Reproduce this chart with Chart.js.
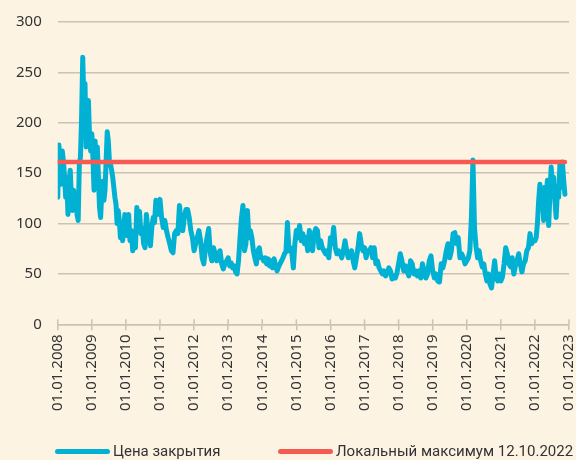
<!DOCTYPE html>
<html>
<head>
<meta charset="utf-8">
<script src="https://cdn.jsdelivr.net/npm/chart.js@4.4.1/dist/chart.umd.min.js"></script>
<style>
  html, body { margin: 0; padding: 0; background: #fcf3e2; }
  #wrap { position: relative; width: 576px; height: 460px; overflow: hidden; }
  #chart { display: block; }
  .legend-item { position: absolute; top: 442px; display: flex; align-items: center;
    font: 15px Roboto, "Noto Sans", sans-serif; color: #333; white-space: nowrap; }
  .legend-item .swatch { width: 55px; height: 5px; border-radius: 3px; margin-right: 3px; }
</style>
</head>
<body>
<div id="wrap">
  <canvas id="chart" width="576" height="460"></canvas>
  <div id="legend"></div>
</div>
<script>
(function () {
  // yearly chunks of closing values
  const years = [2008, 2009, 2010, 2011, 2012, 2013, 2014, 2015, 2016, 2017, 2018, 2019, 2020, 2021, 2022];
  const close2008 = [126, 178, 159, 139, 172, 162, 146, 126, 146, 109, 139, 153, 126, 113, 133, 119, 129, 109, 103, 159, 166, 206, 265, 222, 239, 176, 206, 222, 186, 172];
  const close2009 = [189, 166, 133, 182, 149, 176, 146, 116, 106, 129, 142, 123, 133, 162, 191, 182, 162, 159, 153, 146, 136, 126, 119, 100, 113, 103, 86, 96, 83, 93, 109];
  const close2010 = [96, 88, 109, 83, 93, 73, 90, 76, 116, 103, 112, 90, 96, 80, 76, 109, 96, 86, 78, 96, 106, 101, 123, 109, 116];
  const close2011 = [124, 106, 96, 103, 93, 86, 80, 73, 71, 90, 93, 90, 118, 100, 93, 106, 114, 114, 106, 93, 86];
  const close2012 = [73, 80, 86, 93, 83, 66, 60, 76, 86, 95, 70, 63, 76, 70, 63, 70, 73, 60, 55, 60, 63];
  const close2013 = [66, 58, 61, 56, 58, 52, 50, 63, 86, 106, 118, 73, 80, 113, 86, 93, 86, 73, 66, 60, 73, 76, 66];
  const close2014 = [66, 63, 66, 60, 65, 58, 63, 56, 65, 58, 53, 57, 60, 63, 66, 70, 72, 101, 73, 76, 70, 56, 80];
  const close2015 = [93, 86, 98, 83, 90, 80, 86, 73, 93, 86, 73, 90, 95, 93, 76, 83, 76, 73, 70, 73, 66];
  const close2016 = [86, 80, 96, 76, 70, 73, 70, 66, 73, 83, 73, 66, 70, 73, 63, 56, 66, 76, 90, 80, 73];
  const close2017 = [76, 66, 73, 73, 76, 66, 76, 60, 63, 56, 53, 50, 53, 48, 51, 56, 53, 45, 48, 46, 51];
  const close2018 = [60, 70, 63, 53, 58, 53, 48, 63, 60, 50, 53, 48, 53, 46, 60, 53, 46, 50, 63, 68];
  const close2019 = [53, 46, 50, 43, 42, 60, 56, 63, 73, 80, 66, 73, 90, 91, 80, 86, 66, 70, 66, 60];
  const close2020 = [63, 66, 73, 106, 163, 96, 77, 66, 73, 63, 57, 60, 50, 43, 50, 40, 36, 50, 63, 47, 43, 50];
  const close2021 = [43, 47, 60, 76, 70, 60, 57, 66, 50, 58, 63, 70, 60, 52, 60, 63, 73, 76, 90, 80, 83];
  const close2022 = [83, 86, 100, 123, 139, 116, 129, 103, 136, 123, 143, 98, 129, 156, 136, 146, 123, 106, 133, 126, 159, 136, 161, 143, 129];
  const lastCloseDate = 2022.88; // last close, as fraction of year

  const localMax = 161; // 12.10.2022
  const labelClose = 'Цена закрытия';
  const labelMax = 'Локальный максимум 12.10.2022';

  const closesByYear = [close2008, close2009, close2010, close2011, close2012, close2013, close2014,
    close2015, close2016, close2017, close2018, close2019, close2020, close2021, close2022];

  const BLUE = '#00b1d4';
  const RED = '#f65b53';
  const GRID = '#cbc2b5';
  const TEXT = '#333333';
  const FONT = { family: '"Noto Sans", sans-serif', size: 15 };

  // spread each year's values evenly over that year
  const closePoints = [];
  years.forEach((yr, k) => {
    const vals = closesByYear[k];
    const isLast = k === years.length - 1;
    const step = isLast ? (lastCloseDate - yr) / (vals.length - 1) : 1 / vals.length;
    vals.forEach((v, i) => closePoints.push({ x: yr + i * step, y: v }));
  });

  const maxPoints = [{ x: years[0], y: localMax }, { x: lastCloseDate, y: localMax }];

  // small tick marks that cross the axis line
  const crossTicks = {
    id: 'crossTicks',
    afterDatasetsDraw(chart) {
      const xs = chart.scales.x;
      const ctx = chart.ctx;
      const y0 = chart.chartArea.bottom;
      ctx.save();
      ctx.strokeStyle = GRID;
      ctx.lineWidth = 1.5;
      xs.ticks.forEach(t => {
        const px = xs.getPixelForValue(t.value);
        ctx.beginPath();
        ctx.moveTo(px, y0 - 5);
        ctx.lineTo(px, y0);
        ctx.stroke();
      });
      ctx.restore();
    }
  };

  const ctx = document.getElementById('chart').getContext('2d');
  const chart = new Chart(ctx, {
    type: 'line',
    data: {
      datasets: [{
        label: labelClose,
        data: closePoints,
        borderColor: BLUE,
        backgroundColor: BLUE,
        borderWidth: 5,
        borderJoinStyle: 'round',
        borderCapStyle: 'round',
        pointRadius: 0,
        tension: 0,
        order: 1
      }, {
        label: labelMax,
        data: maxPoints,
        borderColor: RED,
        backgroundColor: RED,
        borderWidth: 4.5,
        borderCapStyle: 'round',
        pointRadius: 0,
        order: 0
      }]
    },
    options: {
      responsive: false,
      animation: false,
      layout: { padding: { left: 0, right: 7, top: 22, bottom: 45 } },
      plugins: {
        legend: { display: false },
        tooltip: { enabled: false }
      },
      scales: {
        x: {
          type: 'linear',
          min: 2008,
          max: 2023,
          afterFit: s => { s.paddingLeft = 0; s.paddingRight = 0; },
          ticks: {
            stepSize: 1,
            autoSkip: false,
            minRotation: 90,
            maxRotation: 90,
            padding: 4,
            color: TEXT,
            font: FONT,
            callback: v => '01.01.' + v
          },
          grid: { drawOnChartArea: false, color: GRID, lineWidth: 1.5, tickLength: 6 },
          border: { color: GRID, width: 1.5 }
        },
        y: {
          min: 0,
          max: 300,
          afterFit: s => { s.paddingTop = 0; s.paddingBottom = 0; },
          ticks: { stepSize: 50, padding: 16, color: TEXT, font: FONT },
          grid: { color: GRID, lineWidth: 1.5, drawTicks: false },
          border: { display: false }
        }
      }
    },
    plugins: [crossTicks]
  });

  // html legend from the datasets
  const legend = document.getElementById('legend');
  const lefts = [55, 278];
  chart.data.datasets.forEach((ds, i) => {
    const item = document.createElement('div');
    item.className = 'legend-item';
    item.style.left = lefts[i] + 'px';
    item.innerHTML = `<span class="swatch" style="background:${ds.borderColor}"></span><span>${ds.label}</span>`;
    legend.appendChild(item);
  });
})();
</script>
</body>
</html>
